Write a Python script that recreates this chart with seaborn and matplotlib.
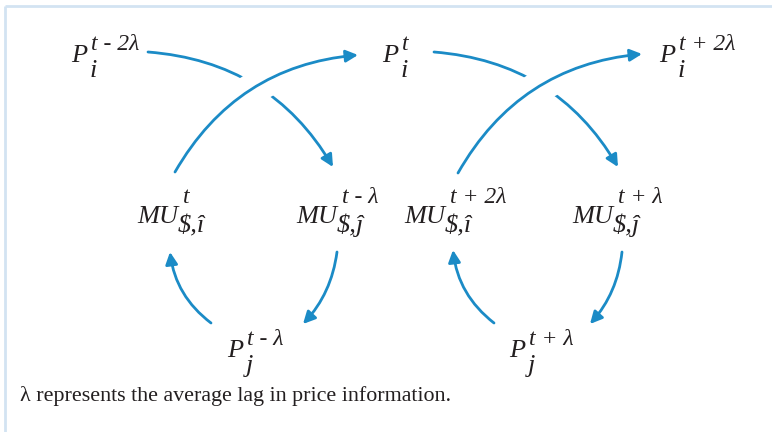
import matplotlib
matplotlib.use("Agg")
import matplotlib.pyplot as plt
import seaborn as sns

sns.set_theme(style="white")
plt.rcParams["font.family"] = ["Liberation Serif", "DejaVu Serif"]

BLUE = "#1b8bc6"
FRAME = "#d3e3f2"
INK = "#231f20"

# =========================
# DIAGRAM CONTENT
# =========================
node_base = ["P", "P", "P", "MU", "MU", "MU", "MU", "P", "P"]
node_sup = ["t - 2λ", "t", "t + 2λ", "t", "t - λ", "t + 2λ", "t + λ", "t - λ", "t + λ"]
node_sub = ["i", "i", "i", "$,î", "$,ĵ", "$,î", "$,ĵ", "j", "j"]
footnote = "λ represents the average lag in price information."

# layout in pixel units (x right, y down)
base_x = [71, 382, 659, 137, 296, 404, 572, 227, 509]
base_y = [62, 62, 62, 223, 223, 223, 223, 357, 357]

# offsets of superscript / subscript from the base symbol
offsets = {
    "P": dict(sup=(20, -12), sub=(19, 15)),
    "MU": dict(sup=(46, -20), sub=(41, 9)),
}

# arrows: start -> end, curvature, drawn over the crossing arc or not
arc_start = [(148, 52), (175, 172), (434, 52), (458, 173),
             (337, 252), (211, 323), (622, 252), (494, 323)]
arc_end = [(333, 167), (358, 55), (618, 167), (642, 54),
           (303, 324), (170, 252), (590, 324), (453, 250)]
arc_rad = [-0.26, -0.26, -0.26, -0.26, -0.16, -0.21, -0.16, -0.21]
arc_over = [False, True, False, True, False, False, False, False]

# =========================
# FIGURE
# =========================
fig = plt.figure(figsize=(7.72, 4.32), dpi=100)
ax = fig.add_axes([0, 0, 1, 1])
ax.set_xlim(0, 772)
ax.set_ylim(432, 0)
ax.axis("off")

# light frame (top + left edge)
ax.plot([5, 772], [6, 6], color=FRAME, lw=2, solid_capstyle="butt")
ax.plot([5, 5], [6, 432], color=FRAME, lw=2, solid_capstyle="butt")

for s, e, r, over in zip(arc_start, arc_end, arc_rad, arc_over):
    if over:
        # white band under the arc so the arc below looks broken
        ax.annotate(
            "", xy=e, xytext=s,
            arrowprops=dict(arrowstyle="-", connectionstyle=f"arc3,rad={r}",
                            color="white", lw=23, shrinkA=0, shrinkB=0),
            zorder=2.5,
        )
    ax.annotate(
        "", xy=e, xytext=s,
        arrowprops=dict(
            arrowstyle="-|>,head_length=0.4,head_width=0.2",
            connectionstyle=f"arc3,rad={r}",
            color=BLUE, lw=2.0, shrinkA=0, shrinkB=0, mutation_scale=18,
        ),
        zorder=3 if over else 2,
    )

txt = dict(color=INK, style="italic", va="baseline", ha="left", zorder=5)
for b, sup, sub, x, y in zip(node_base, node_sup, node_sub, base_x, base_y):
    ax.text(x, y, b, fontsize=19, **txt)
    dx, dy = offsets[b]["sup"]
    ax.text(x + dx, y + dy, sup, fontsize=17, **txt)
    dx, dy = offsets[b]["sub"]
    ax.text(x + dx, y + dy, sub, fontsize=19, **txt)

ax.text(20, 401, footnote, fontsize=15.8, color=INK, va="baseline", ha="left")

fig.savefig("out.png", dpi=100)
